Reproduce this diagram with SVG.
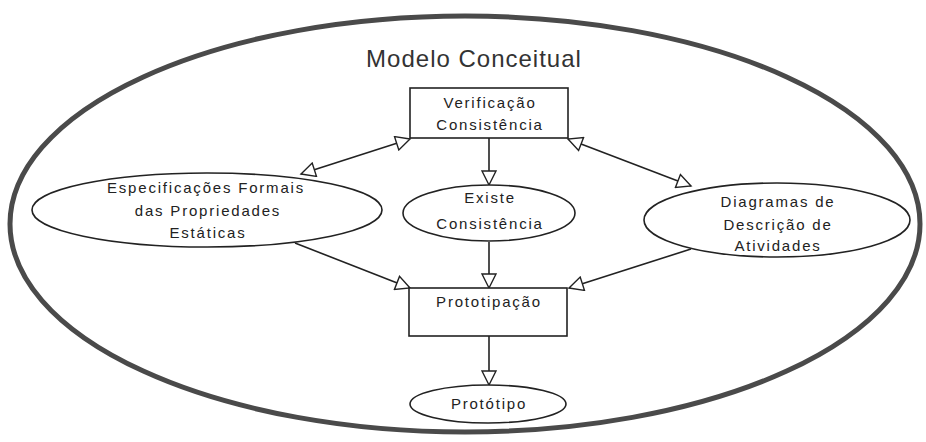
<svg xmlns="http://www.w3.org/2000/svg" width="926" height="442" viewBox="0 0 926 442">
  <defs>
    <marker id="tri" viewBox="-16 -8 18 16" refX="0" refY="0" markerWidth="18" markerHeight="16" markerUnits="userSpaceOnUse" orient="auto-start-reverse">
      <path d="M0,0 L-14,-7 L-14,7 Z" fill="#fff" stroke="#222" stroke-width="1.4" stroke-linejoin="miter"/>
    </marker>
    <style>
      .frame { fill: none; stroke: #4a4a4a; stroke-width: 5; }
      .node { fill: #fff; stroke: #222; stroke-width: 1.6; }
      .edge { fill: none; stroke: #222; stroke-width: 1.6; marker-end: url(#tri); }
      .both { marker-start: url(#tri); }
      .lbl { font-family: "Liberation Sans", Arial, sans-serif; font-size: 15px; fill: #222; text-anchor: middle; letter-spacing: 1.8px; }
      .title { font-family: "Liberation Sans", Arial, sans-serif; font-size: 24px; fill: #333; text-anchor: middle; letter-spacing: 1px; }
    </style>
  </defs>

  <rect width="926" height="442" fill="#fff"/>

  <!-- outer boundary of the conceptual model -->
  <g id="modelo">
    <ellipse class="frame" cx="465" cy="224" rx="455" ry="208"/>
    <text class="title" x="474" y="67">Modelo Conceitual</text>
  </g>

  <!-- connectors -->
  <g id="connectors">
    <line class="edge" x1="489" y1="138" x2="489" y2="185"/>
    <line class="edge" x1="489" y1="242" x2="489" y2="288"/>
    <line class="edge" x1="489" y1="336" x2="489" y2="385"/>
    <line class="edge both" x1="301" y1="174" x2="410" y2="139"/>
    <line class="edge both" x1="691" y1="186" x2="568" y2="139"/>
    <line class="edge" x1="295" y1="243" x2="410" y2="288"/>
    <line class="edge" x1="691" y1="249" x2="569" y2="288"/>
  </g>

  <g id="verificacao">
    <rect class="node" x="410" y="88" width="158" height="50"/>
    <text class="lbl" x="490" y="108">Verificação</text>
    <text class="lbl" x="490" y="130">Consistência</text>
  </g>

  <g id="especificacoes">
    <ellipse class="node" cx="207" cy="210" rx="175" ry="37"/>
    <text class="lbl" x="206" y="193">Especificações Formais</text>
    <text class="lbl" x="208" y="216">das Propriedades</text>
    <text class="lbl" x="208" y="238">Estáticas</text>
  </g>

  <g id="existe">
    <ellipse class="node" cx="489" cy="213" rx="86" ry="28"/>
    <text class="lbl" x="490" y="203">Existe</text>
    <text class="lbl" x="490" y="229">Consistência</text>
  </g>

  <g id="diagramas">
    <ellipse class="node" cx="777" cy="220" rx="133" ry="37"/>
    <text class="lbl" x="778" y="207">Diagramas de</text>
    <text class="lbl" x="778" y="230">Descrição de</text>
    <text class="lbl" x="778" y="251">Atividades</text>
  </g>

  <g id="prototipacao">
    <rect class="node" x="409" y="288" width="158" height="48"/>
    <text class="lbl" x="489" y="307">Prototipação</text>
  </g>

  <g id="prototipo">
    <ellipse class="node" cx="488" cy="404" rx="78" ry="19"/>
    <text class="lbl" x="489" y="409">Protótipo</text>
  </g>
</svg>
